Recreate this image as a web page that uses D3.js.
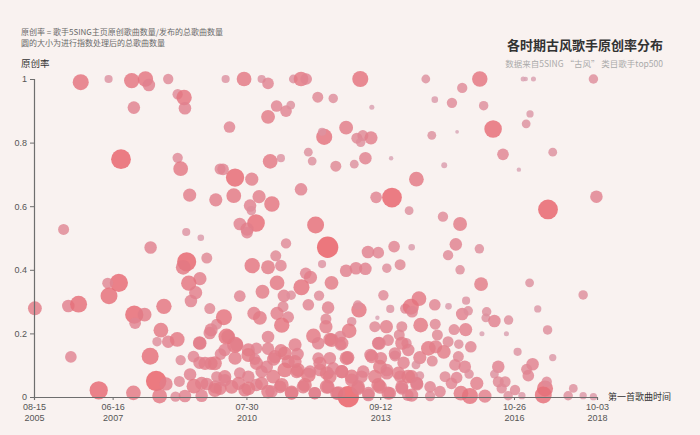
<!DOCTYPE html>
<html><head><meta charset="utf-8">
<script src="https://cdn.jsdelivr.net/npm/d3@7"></script>
<style>
html,body{margin:0;padding:0;background:#f9f2f0;}
svg{display:block;font-family:"Noto Sans CJK SC","Microsoft YaHei",sans-serif;}
</style></head>
<body><svg id="chart" width="700" height="435"></svg>
<script>
// ---- data (first-song date as decimal year, original-song rate, processed song count) ----
const firstSongYear = [
// group 1
2006.71,2007.36,2007.90,2008.22,2008.30,2008.75,2007.95,2008.97,2009.12,2009.14,2007.65,2008.97,2009.04,2009.96,2009.25,2009.86,2006.31,2009.17,
// group 2
2010.09,2010.52,2010.93,2011.08,2011.67,2011.85,2011.97,2013.23,2012.24,2012.60,
2013.50,2011.28,2011.50,2011.61,2011.08,2010.18,2012.90,2012.39,2012.34,2013.15,
2013.29,2013.24,2013.48,2011.13,2011.38,2012.02,2012.11,2012.66,2013.09,2013.35,
2013.95,2010.03,2010.31,2010.70,2010.28,2010.87,2011.17,2010.66,2010.69,2011.85,
2013.60,2013.97,2014.37,2010.42,2010.80,2010.59,2012.19,
// group 3
2014.76,2016.02,2017.03,2017.09,2017.27,2018.67,2015.61,2014.97,2015.37,2016.11,
2017.19,2017.10,2016.33,2015.49,2014.90,2016.56,2017.72,2015.19,2016.93,2014.54,
2018.74,2017.61,2015.16,2015.56,
// group 4
2009.51,2008.34,2009.18,2009.10,2009.65,2009.49,2009.23,2009.39,2009.28,2007.60,
2007.34,2007.37,2005.64,2006.42,2006.66,2007.96,2008.20,2007.98,2008.65,2009.72,
2008.58,2008.49,2008.75,2008.96,2009.48,2009.75,2009.88,2006.48,2008.33,2008.47,
2008.70,2009.01,2009.26,2009.04,2009.34,2009.48,2009.75,2007.13,2007.94,2008.55,
2008.92,2009.14,2009.35,2009.53,2009.65,2009.85,2009.88,
// group 5
2010.59,2011.50,2012.47,2013.41,2013.65,2014.02,2011.26,2010.71,2011.08,2011.38,
2012.34,2012.90,2013.13,2013.35,2013.85,2014.16,2011.96,2012.07,2012.56,2011.29,
2010.95,2011.86,2010.42,2011.45,2011.62,2012.27,2013.77,2012.02,2012.48,2013.20,
2013.17,2013.63,2013.93,2014.28,2011.43,2010.75,2010.89,2010.05,2011.29,2011.55,
2011.40,2012.43,2012.43,2013.03,2012.97,2013.57,2013.84,2014.20,2010.11,2010.31,
2011.08,2012.14,2012.52,2012.76,2012.77,2013.67,2013.88,2014.14,2014.31,2010.62,
2010.81,2011.08,2011.38,2011.71,2011.77,2009.97,2010.31,2010.77,2011.21,2011.55,
2012.25,2012.52,2012.94,2013.47,2013.71,2014.04,2014.24,2010.07,2010.42,2010.62,
2010.93,2011.20,2011.47,2011.75,2012.02,2012.29,2012.52,2012.80,2013.03,2013.30,
2013.57,2013.85,2014.16,2009.96,2010.23,2010.54,2010.81,2011.08,2011.36,2011.63,
2011.90,2012.17,2012.45,2012.68,2012.95,2013.18,2013.42,2013.69,2013.92,2014.20,
2014.34,
// group 6
2014.43,2015.46,2016.01,2015.28,2015.56,2016.05,2017.18,2018.43,2014.60,2014.41,
2014.44,2014.97,2015.29,2015.70,2015.61,2015.75,2016.18,2016.16,2016.36,2016.69,
2017.37,2017.60,2014.64,2014.98,2015.03,2015.42,2015.69,2016.07,2016.64,2014.82,
2014.99,2015.18,2015.28,2015.53,2015.81,2014.62,2014.91,2015.52,2015.44,2015.67,
2016.90,2017.72,2017.25,2017.11,2017.15,2016.45,2016.36,2014.53,2014.43,2014.62,
2015.21,2015.48,2015.77,2015.95,2014.55,2014.86,2015.36,2015.58,2015.79,2015.09,
2014.86,2016.14,2016.45,2016.61,2016.53,2016.84,2016.68,2017.54,2017.50,2017.58,
2018.20,2018.08,2018.43,2018.67,2017.00,2014.35,
// group 7
2009.49,2009.72,2010.15,2010.35,2010.07,2010.62,2010.81,2011.05,2011.24,2011.47,
2011.71,2011.78,2012.06,2012.29,2012.45,2012.60,2012.80,2012.91,2013.03,2013.26,
2013.50,2013.69,2013.85,2014.12,2014.35,2014.55,2009.53,2009.84,2010.07,2010.39,
2010.62,2010.93,2011.16,2011.40,2011.63,2011.94,2012.17,2012.48,2012.72,2013.18,
2013.42,2013.65,2013.88,2014.20,2014.43,2012.25,2012.56,2012.80,2013.65,2014.20,
2014.04,2009.61,2009.84
];
const originalRate = [
// group 1
0.99,1.0,0.995,1.0,0.981,1.0,0.910,0.952,0.942,0.908,0.748,0.752,0.718,0.717,0.635,0.620,0.527,0.519,
// group 2
1.0,1.0,1.0,0.986,1.0,1.0,1.0,1.0,0.943,0.939,
0.911,0.915,0.899,0.918,0.881,0.849,0.847,0.818,0.834,0.814,
0.822,0.801,0.815,0.741,0.751,0.770,0.742,0.726,0.732,0.751,
0.751,0.716,0.690,0.685,0.633,0.630,0.607,0.602,0.586,0.653,
0.628,0.627,0.586,0.544,0.547,0.528,0.541,
// group 3
1.0,1.0,1.0,1.0,1.0,1.0,0.972,0.935,0.925,0.916,
0.890,0.859,0.843,0.834,0.823,0.763,0.770,0.729,0.715,0.685,
0.630,0.590,0.567,0.544,
// group 4
0.501,0.470,0.425,0.408,0.437,0.372,0.358,0.328,0.302,0.359,
0.358,0.318,0.279,0.286,0.292,0.259,0.259,0.232,0.285,0.278,
0.210,0.174,0.174,0.181,0.170,0.211,0.229,0.126,0.128,0.050,
0.041,0.049,0.071,0.116,0.127,0.108,0.106,0.021,0.013,0.003,
0.001,0.003,0.034,0.004,0.041,0.032,0.064,
// group 5
0.517,0.483,0.471,0.456,0.454,0.473,0.444,0.413,0.408,0.413,
0.418,0.397,0.405,0.403,0.405,0.416,0.389,0.376,0.359,0.359,
0.331,0.345,0.317,0.318,0.320,0.319,0.320,0.290,0.281,0.274,
0.289,0.249,0.277,0.278,0.284,0.263,0.249,0.251,0.263,0.251,
0.226,0.245,0.221,0.237,0.208,0.221,0.221,0.221,0.190,0.164,
0.189,0.192,0.181,0.190,0.164,0.169,0.179,0.195,0.169,0.148,
0.153,0.152,0.146,0.164,0.135,0.135,0.122,0.119,0.119,0.111,
0.122,0.122,0.124,0.132,0.122,0.129,0.108,0.064,0.075,0.064,
0.080,0.064,0.085,0.080,0.069,0.085,0.064,0.080,0.064,0.080,
0.064,0.075,0.064,0.027,0.032,0.022,0.038,0.017,0.032,0.014,
0.032,0.012,0.032,0.012,0.001,0.032,0.012,0.032,0.012,0.032,
0.006,
// group 6
0.471,0.480,0.466,0.446,0.400,0.355,0.359,0.321,0.309,0.284,
0.268,0.290,0.285,0.303,0.261,0.271,0.268,0.249,0.239,0.242,
0.277,0.211,0.226,0.229,0.195,0.212,0.212,0.199,0.199,0.153,
0.158,0.142,0.174,0.166,0.158,0.124,0.113,0.127,0.101,0.095,
0.142,0.124,0.103,0.087,0.067,0.095,0.072,0.101,0.064,0.067,
0.064,0.061,0.072,0.043,0.041,0.032,0.043,0.012,0.003,0.017,
0.003,0.003,0.048,0.048,0.027,0.022,0.004,0.027,0.006,0.048,
0.027,0.004,0.004,0.001,0.004,0.148,
// group 7
0.169,0.201,0.190,0.164,0.148,0.132,0.106,0.095,0.127,0.137,
0.111,0.085,0.080,0.106,0.075,0.090,0.080,0.122,0.053,0.064,
0.127,0.095,0.085,0.075,0.064,0.043,0.043,0.022,0.053,0.043,
0.027,0.043,0.017,0.038,0.012,0.038,0.012,0.032,0.012,0.027,
0.006,0.038,0.012,0.027,0.006,0.169,0.179,0.169,0.169,0.169,
0.137,0.106,0.106
];
const songCount = [
// group 1
73,37,70,70,57,47,57,47,70,57,90,47,67,50,60,60,50,37,
// group 2
37,67,37,53,40,67,53,73,50,43,
23,53,53,40,63,53,63,73,37,50,
50,43,60,67,37,40,40,50,40,57,
20,53,83,60,67,60,70,57,43,57,
53,90,40,57,80,60,77,
// group 3
40,70,23,20,23,43,47,30,47,43,
33,40,80,17,40,53,40,27,20,67,
57,90,47,63,
// group 4
30,57,87,67,50,60,70,60,57,83,
50,77,63,57,77,83,63,53,70,50,
67,43,57,67,60,60,50,53,77,93,
60,50,57,47,53,57,60,83,67,67,
47,57,67,57,57,60,50,
// group 5
53,47,97,57,53,53,50,70,63,53,
37,57,57,57,43,50,53,60,63,67,
63,73,53,57,43,47,47,53,57,70,
43,20,37,47,50,60,63,73,60,53,
70,50,60,43,67,50,60,50,73,73,
57,67,60,53,53,60,53,50,47,60,
53,57,60,60,57,53,60,53,60,60,
53,57,60,57,57,50,57,60,53,57,
57,63,67,60,67,58,62,60,64,57,
62,58,55,60,63,60,57,62,58,63,
60,56,64,59,97,62,58,63,57,60,
53,
// group 6
30,57,43,47,43,63,40,43,67,73,
53,53,30,37,57,43,43,40,57,43,
33,43,67,50,50,50,60,23,23,67,
60,63,50,43,53,60,50,50,53,57,
37,33,57,50,53,57,40,40,60,40,
50,53,43,60,60,53,53,67,73,53,
47,60,50,50,47,47,43,73,77,47,
40,43,33,33,33,57,
// group 7
60,57,63,60,57,63,60,57,60,63,
60,63,57,60,63,57,60,63,60,57,
60,63,57,60,63,57,60,63,57,60,
63,60,57,63,60,63,57,60,63,60,
57,63,60,57,60,57,63,60,57,60,
57,60,63
];
const xTickDates = ["2005-08-15","2007-06-16","2010-07-30","2013-09-12","2016-10-26","2018-10-03"];
const yTicks = [0, 0.2, 0.4, 0.6, 0.8, 1];
const titleText = "各时期古风歌手原创率分布";
const subtitleText = "数据来自5SING “古风” 类目歌手top500";
const noteLines = ["原创率 = 歌手5SING主页原创歌曲数量/发布的总歌曲数量", "圆的大小为进行指数处理后的总歌曲数量"];
const yAxisName = "原创率";
const xAxisName = "第一首歌曲时间";

// ---- helpers ----
const parse = d3.timeParse("%Y-%m-%d");
function yearToDate(y){
  const yr = Math.floor(y);
  const start = new Date(yr,0,1), end = new Date(yr+1,0,1);
  return new Date(+start + (y-yr)*(end-start));
}
const data = firstSongYear.map((y,i)=>({date:yearToDate(y), rate:originalRate[i], songs:songCount[i]}));

const svg = d3.select("#chart");
const x = d3.scaleTime().domain([parse(xTickDates[0]), parse(xTickDates[xTickDates.length-1])]).range([34, 597]);
const y = d3.scaleLinear().domain([0,1]).range([397, 79]);
const r = d3.scaleLinear().domain([0,100]).range([0,11]);
const color = d3.scaleLinear().domain([20,100]).range(["#d9a3b3","#ea5860"]).interpolate(d3.interpolateRgb);

// points
svg.append("g").selectAll("circle").data(data).join("circle")
  .attr("cx", d=>x(d.date)).attr("cy", d=>y(d.rate)).attr("r", d=>r(d.songs))
  .attr("fill", d=>color(d.songs)).attr("fill-opacity", 0.82);

// axes
const FONT = '"Noto Sans CJK SC",sans-serif';
const NUMFONT = '"Liberation Sans","DejaVu Sans",sans-serif';
const yAxis = svg.append("g").attr("transform","translate(34,0)")
  .call(d3.axisLeft(y).tickValues(yTicks).tickSize(4).tickPadding(3).tickFormat(d=>String(d)));
const fmtMD = d3.timeFormat("%m-%d"), fmtY = d3.timeFormat("%Y");
const xAxis = svg.append("g").attr("transform","translate(0,397)")
  .call(d3.axisBottom(x).tickValues(xTickDates.map(parse)).tickSize(3));
xAxis.selectAll(".tick text").remove();
[yAxis, xAxis].forEach(g=>{
  g.select(".domain").attr("stroke","#6e6e6e").attr("stroke-width",1.2);
  g.selectAll(".tick line").attr("stroke","#6e6e6e");
  g.selectAll("text").attr("fill","#555").attr("font-size",9).attr("font-family",NUMFONT);
});
xAxis.selectAll(".tick").each(function(d){
  const g = d3.select(this);
  g.append("text").attr("y",13).attr("fill","#555").attr("font-size",9)
    .attr("text-anchor","middle").attr("font-family",NUMFONT).text(fmtMD(d));
  g.append("text").attr("y",24).attr("fill","#555").attr("font-size",9)
    .attr("text-anchor","middle").attr("font-family",NUMFONT).text(fmtY(d));
});

// axis names
svg.append("text").attr("x",21).attr("y",67).attr("font-size",9.5).attr("fill","#333").text(yAxisName);
svg.append("text").attr("x",608).attr("y",400).attr("font-size",9).attr("fill","#333").text(xAxisName);

// notes
noteLines.forEach((t,i)=>svg.append("text").attr("x",21).attr("y",35+i*10.5)
  .attr("font-size",8).attr("fill","#6a6a6a").text(t));

// title
svg.append("text").attr("x",663).attr("y",50).attr("text-anchor","end")
  .attr("font-size",13).attr("font-weight","bold").attr("fill","#333").text(titleText);
svg.append("text").attr("x",663).attr("y",67).attr("text-anchor","end")
  .attr("font-size",8.5).attr("fill","#aaa").text(subtitleText);
</script></body></html>
